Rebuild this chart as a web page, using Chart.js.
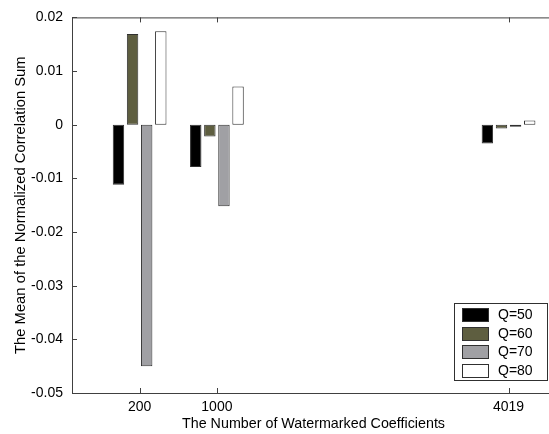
<!DOCTYPE html>
<html>
<head>
<meta charset="utf-8">
<script src="https://cdn.jsdelivr.net/npm/chart.js@4/dist/chart.umd.min.js"></script>
<style>
    html, body { margin: 0; padding: 0; background: #fff; overflow: hidden; }
    #wrap { width: 549px; height: 434px; overflow: hidden; }
</style>
</head>
<body>
<div id="wrap">
    <canvas id="corr-canvas" width="556" height="434"></canvas>
</div>
<script>
// values
const positions = [200, 1000, 4019];
const seriesLabels = ['Q=50', 'Q=60', 'Q=70', 'Q=80'];
const q50 = [-0.0112, -0.0079, -0.0035];
const q60 = [0.0169, -0.0022, -0.0007];
const q70 = [-0.0450, -0.0152, -0.0004];
const q80 = [0.0174, 0.0071, 0.0008];
const yTickValues = [-0.05, -0.04, -0.03, -0.02, -0.01, 0, 0.01, 0.02];

const seriesValues = [q50, q60, q70, q80];
const fills = ['#000000', '#5e5e40', '#a0a0a4', '#ffffff'];

Chart.defaults.font.family = '"Liberation Sans", Arial, sans-serif';
Chart.defaults.font.size = 14;
Chart.defaults.color = '#000';

// axes box with inward ticks + legend inside the plot (matlab style)
const matlabFrame = {
    id: 'matlabFrame',
    afterDatasetsDraw(chart) {
        const {ctx, chartArea: a, scales: {x, y}} = chart;
        ctx.save();
        ctx.strokeStyle = '#404040';
        ctx.lineWidth = 1;
        ctx.strokeRect(a.left + 0.5, a.top + 0.5, a.right - a.left, a.bottom - a.top);
        ctx.beginPath();
        x.ticks.forEach(t => {
            const px = Math.round(x.getPixelForValue(t.value)) + 0.5;
            ctx.moveTo(px, a.bottom); ctx.lineTo(px, a.bottom - 5);
            ctx.moveTo(px, a.top); ctx.lineTo(px, a.top + 5);
        });
        y.ticks.forEach(t => {
            const py = Math.round(y.getPixelForValue(t.value)) + 0.5;
            ctx.moveTo(a.left, py); ctx.lineTo(a.left + 5, py);
            ctx.moveTo(a.right, py); ctx.lineTo(a.right - 5, py);
        });
        ctx.stroke();

        // legend
        const boxW = 93, boxH = 77;
        const bx = a.right - 8 - boxW;
        const by = a.bottom - 13 - boxH;
        ctx.fillStyle = '#fff';
        ctx.fillRect(bx, by, boxW, boxH);
        ctx.strokeStyle = '#303030';
        ctx.strokeRect(bx + 0.5, by + 0.5, boxW, boxH);
        ctx.font = '14px "Liberation Sans", Arial, sans-serif';
        ctx.textBaseline = 'middle';
        chart.data.datasets.forEach((ds, i) => {
            const ry = Math.round(by + 5 + i * 18.5);
            ctx.fillStyle = ds.backgroundColor;
            ctx.fillRect(bx + 8, ry, 27, 14);
            ctx.strokeStyle = '#303030';
            ctx.strokeRect(bx + 8.5, ry + 0.5, 26, 13);
            ctx.fillStyle = '#000';
            ctx.fillText(ds.label, bx + 44, ry + 7.5);
        });
        ctx.restore();
    }
};

const corrCanvas = document.querySelector('#corr-canvas');

const corrChart = new Chart(corrCanvas, {
    type: 'bar',
    data: {
        datasets: seriesLabels.map((label, i) => ({
            label: label,
            data: positions.map((p, j) => ({x: p, y: seriesValues[i][j]})),
            backgroundColor: fills[i],
            borderColor: '#303030',
            borderWidth: 1,
            borderSkipped: false,
            categoryPercentage: 0.73,
            barPercentage: 0.81
        }))
    },
    options: {
        responsive: false,
        animation: false,
        devicePixelRatio: 1,
        layout: {
            padding: {top: 12, right: 1, left: 0, bottom: 0}
        },
        plugins: {
            legend: {display: false},
            tooltip: {enabled: false}
        },
        scales: {
            x: {
                type: 'linear',
                min: -500,
                max: 4500,
                offset: false,
                grid: {display: false, drawTicks: false},
                border: {display: false},
                afterBuildTicks: scale => {
                    scale.ticks = positions.map(v => ({value: v}));
                },
                afterFit: scale => { scale.height = 41; },
                ticks: {
                    autoSkip: false,
                    maxRotation: 0,
                    padding: 6,
                    callback: v => String(v)
                },
                title: {
                    display: true,
                    text: 'The Number of Watermarked Coefficients',
                    font: {size: 14.3},
                    padding: {top: 0, bottom: 1.4}
                }
            },
            y: {
                min: -0.05,
                max: 0.02,
                grid: {display: false, drawTicks: false},
                border: {display: false},
                afterBuildTicks: scale => {
                    scale.ticks = yTickValues.map(v => ({value: v}));
                },
                afterFit: scale => { scale.width = 72; },
                ticks: {
                    padding: 9,
                    callback: v => (v === 0 ? '0' : v.toFixed(2))
                },
                title: {
                    display: true,
                    text: 'The Mean of the Normalized Correlation Sum',
                    font: {size: 14.8},
                    padding: {top: 12, bottom: 0}
                }
            }
        }
    },
    plugins: [matlabFrame]
});
</script>
</body>
</html>
